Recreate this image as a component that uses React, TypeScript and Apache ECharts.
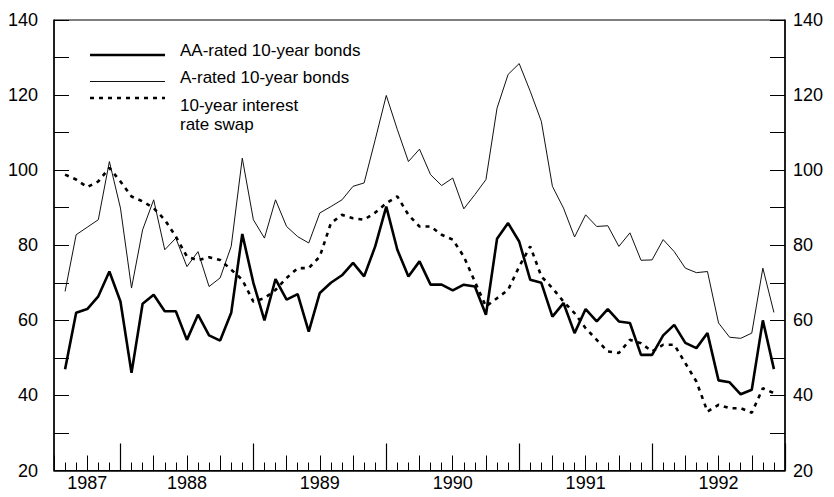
import React, { useEffect, useRef } from "react";
import * as echarts from "echarts";

// Monthly categories: index 0 = July 1987 (left edge), index 66 = January 1993 (right edge)
const startYear = 1987;
const startMonth = 7;
const months: string[] = [];
for (let i = 0; i <= 66; i++) {
  const t = startMonth - 1 + i;
  const y = startYear + Math.floor(t / 12);
  const m = (t % 12) + 1;
  months.push(`${y}-${m < 10 ? "0" + m : m}`);
}

const yearLabels = ["1987", "1988", "1989", "1990", "1991", "1992"];
const yearLabelAt = [3, 12, 24, 36, 48, 60];
const yTickLabels = [20, 40, 60, 80, 100, 120, 140];

// Series values (basis points), one per month starting at category index 1
const aaRated = [
  47, 62, 63, 66.4, 73, 65, 46, 64.4, 66.8, 62.4, 62.4, 54.8, 61.5, 56, 54.6, 62,
  83, 70, 60, 71, 65.5, 67, 57, 67.3, 70, 72, 75.3, 71.7, 79.7, 90.3, 78.8, 71.7,
  75.7, 69.5, 69.5, 68, 69.5, 69, 61.5, 81.7, 85.9, 81, 70.8, 70, 61, 64.6, 56.6,
  63, 59.7, 63, 59.7, 59.3, 50.8, 50.8, 56, 58.8, 54, 52.6, 56.6, 44, 43.5, 40.3,
  41.5, 60, 47,
];
const aRated = [
  67.7, 82.8, 84.8, 86.8, 102.3, 89.9, 68.6, 84.1, 92.1, 78.8, 81.9, 74.3, 78.3, 69,
  71.3, 79.7, 103.2, 86.8, 81.9, 92.1, 85, 82.3, 80.6, 88.6, 90.3, 92.1, 95.7, 96.6,
  108.1, 119.9, 110.8, 102.3, 105.6, 98.8, 95.9, 97.9, 89.7, 93.5, 97.5, 116.5, 125.5,
  128.4, 121, 113, 95.7, 89.9, 82.2, 88.1, 85, 85.2, 79.7, 83.3, 76, 76.1, 81.5, 78.3,
  73.9, 72.7, 73, 59.3, 55.5, 55.2, 56.6, 73.9, 62.1,
];
const swap10 = [
  98.8, 97.5, 95.5, 97, 100.6, 97, 93, 91.7, 89.9, 86.8, 82.3, 77, 76, 76.8, 76.1,
  73.5, 70.8, 65, 65.9, 68.1, 71.3, 73.9, 73.9, 77, 85.9, 88.1, 87.2, 86.8, 88.7,
  91.2, 93, 88.1, 85, 85, 82.8, 81.5, 77, 70.3, 63.7, 65.9, 68.1, 74.3, 79.7, 71.7,
  68.6, 65, 61.9, 57.9, 54.8, 51.7, 51.3, 54.8, 53.9, 51.7, 53.5, 53.5, 48.6, 43.7,
  35.7, 37.5, 36.6, 36.6, 35.4, 41.9, 40.6,
];

const seriesNames = ["AA-rated 10-year bonds", "A-rated 10-year bonds", "10-year interest\nrate swap"];

const FONT = "Liberation Sans, Arial, Helvetica, sans-serif";

export default function App() {
  const ref = useRef<HTMLDivElement>(null);

  useEffect(() => {
    if (!ref.current) return;
    const chart = echarts.init(ref.current, undefined, { renderer: "svg" });
    const pad = (arr: number[]) => [null, ...arr];

    const baseCat = {
      type: "category",
      data: months,
      boundaryGap: false,
      position: "bottom",
      gridIndex: 0,
      splitLine: { show: false },
    };

    const yAxisBase = (pos: "left" | "right", margin: number) => ({
      type: "value",
      position: pos,
      min: 20,
      max: 140,
      interval: 10,
      splitLine: { show: false },
      axisLine: { show: true, lineStyle: { color: "#000", width: 1.5 } },
      axisTick: { show: true, inside: true, length: 15, lineStyle: { color: "#000", width: 1 } },
      axisLabel: {
        color: "#000",
        fontSize: 18,
        fontFamily: FONT,
        margin,
        formatter: (v: number) => (yTickLabels.includes(v) ? String(v) : ""),
      },
    });

    const option: any = {
      animation: false,
      backgroundColor: "#fff",
      grid: {
        left: 54,
        right: 49,
        top: 20,
        bottom: 26.5,
        show: true,
        borderColor: "#000",
        borderWidth: 1,
        containLabel: false,
      },
      xAxis: [
        {
          ...baseCat,
          axisLine: { show: true, lineStyle: { color: "#000", width: 1.5 } },
          axisTick: {
            show: true,
            inside: true,
            length: 15,
            interval: (i: number) => i % 3 === 0 && i % 12 !== 6,
            lineStyle: { color: "#000", width: 1 },
          },
          axisLabel: {
            interval: 0,
            color: "#000",
            fontSize: 18,
            fontFamily: FONT,
            margin: 3,
            formatter: (v: string) => {
              const k = yearLabelAt.indexOf(months.indexOf(v));
              return k >= 0 ? yearLabels[k] : "";
            },
          },
        },
        {
          ...baseCat,
          axisLine: { show: false },
          axisLabel: { show: false },
          axisTick: {
            show: true,
            inside: true,
            length: 8,
            interval: (i: number) => i % 3 !== 0,
            lineStyle: { color: "#000", width: 1 },
          },
        },
        {
          ...baseCat,
          axisLine: { show: false },
          axisLabel: { show: false },
          axisTick: {
            show: true,
            inside: true,
            length: 27,
            interval: (i: number) => i % 12 === 6,
            lineStyle: { color: "#000", width: 1.2 },
          },
        },
      ],
      yAxis: [yAxisBase("left", 16), yAxisBase("right", 8)],
      series: [
        {
          name: seriesNames[0],
          type: "line",
          data: pad(aaRated),
          symbol: "none",
          lineStyle: { color: "#000", width: 2.6 },
          xAxisIndex: 0,
          yAxisIndex: 0,
        },
        {
          name: seriesNames[1],
          type: "line",
          data: pad(aRated),
          symbol: "none",
          lineStyle: { color: "#111", width: 1 },
          xAxisIndex: 0,
          yAxisIndex: 0,
        },
        {
          name: seriesNames[2],
          type: "line",
          data: pad(swap10),
          symbol: "none",
          lineStyle: { color: "#000", width: 2.6, type: [4, 5] },
          xAxisIndex: 0,
          yAxisIndex: 0,
        },
      ],
      graphic: [
        { type: "line", shape: { x1: 90, y1: 55, x2: 165, y2: 55 }, style: { stroke: "#000", lineWidth: 2.6 } },
        { type: "line", shape: { x1: 90, y1: 81.5, x2: 165, y2: 81.5 }, style: { stroke: "#111", lineWidth: 1 } },
        {
          type: "line",
          shape: { x1: 90, y1: 98, x2: 165, y2: 98 },
          style: { stroke: "#000", lineWidth: 2.6, lineDash: [4, 5] },
        },
        {
          type: "text",
          x: 180,
          y: 50,
          style: { text: seriesNames[0], font: `17px ${FONT}`, fill: "#000", verticalAlign: "middle" },
        },
        {
          type: "text",
          x: 180,
          y: 77.5,
          style: { text: seriesNames[1], font: `17px ${FONT}`, fill: "#000", verticalAlign: "middle" },
        },
        {
          type: "text",
          x: 180,
          y: 96,
          style: {
            text: seriesNames[2],
            font: `17px ${FONT}`,
            fill: "#000",
            verticalAlign: "top",
            lineHeight: 19,
          },
        },
      ],
    };

    chart.setOption(option);
    return () => chart.dispose();
  }, []);

  return (
    <div
      ref={ref}
      style={{ position: "fixed", left: 0, top: 0, width: 834, height: 497, background: "#fff" }}
    />
  );
}
